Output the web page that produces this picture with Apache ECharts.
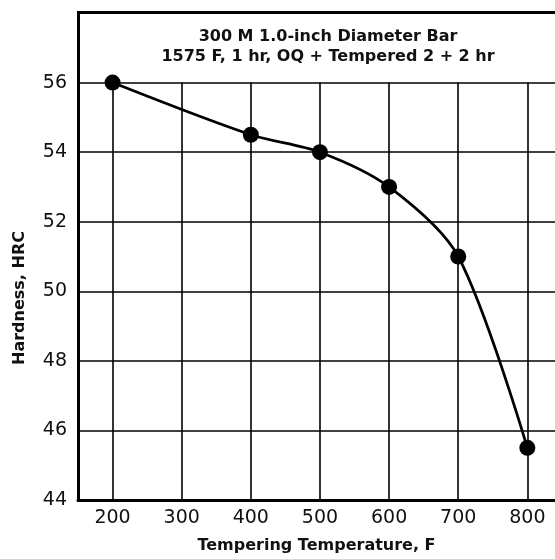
<!DOCTYPE html>
<html>
<head>
<meta charset="utf-8">
<script src="https://cdn.jsdelivr.net/npm/echarts@6/dist/echarts.min.js"></script>
<style>
  html, body { margin: 0; padding: 0; background: #fff; }
  #chart { width: 555px; height: 559px; }
</style>
</head>
<body>
<div id="chart"></div>
<script>
// Tempering temperature (F) and resulting hardness (HRC)
const temperatures = [200, 400, 500, 600, 700, 800];
const hardness = [56, 54.5, 54, 53, 51, 45.5];
const xTicks = [200, 300, 400, 500, 600, 700, 800];
const yTicks = [44, 46, 48, 50, 52, 54, 56];
const titleLines = ['300 M 1.0-inch Diameter Bar', '1575 F, 1 hr, OQ + Tempered 2 + 2 hr'];

const chart = echarts.init(document.getElementById('chart'), null, { renderer: 'canvas' });
const font = '"DejaVu Sans", "Liberation Sans", sans-serif';

const points = temperatures.map((t, i) => [t, hardness[i]]);

// vertical grid lines stop at the top data gridline, leaving the title area clear
const verticalGrid = xTicks.map(t => [{ coord: [t, yTicks[0]] }, { coord: [t, yTicks[yTicks.length - 1]] }]);

chart.setOption({
  animation: false,
  backgroundColor: '#fff',
  title: {
    text: titleLines.join('\n'),
    left: 323,
    top: 22,
    textAlign: 'center',
    textStyle: { fontFamily: font, fontSize: 16, fontWeight: 'bold', color: '#111', lineHeight: 20 }
  },
  grid: { left: 78, right: 0, top: 13, bottom: 55, containLabel: false },
  xAxis: {
    type: 'value',
    min: 150,
    max: 840,
    interval: 50,
    axisLine: { show: true, lineStyle: { color: '#000', width: 3 } },
    axisTick: { show: false },
    splitLine: { show: false },
    axisLabel: {
      fontFamily: font, fontSize: 19, color: '#111', margin: 9,
      showMaxLabel: false,
      formatter: v => (xTicks.includes(v) ? String(v) : '')
    },
    name: 'Tempering Temperature, F',
    nameLocation: 'middle',
    nameGap: 38,
    nameTextStyle: { fontFamily: font, fontSize: 16, fontWeight: 'bold', color: '#111' }
  },
  yAxis: {
    type: 'value',
    min: 44,
    max: 58,
    interval: 2,
    axisLine: { show: true, lineStyle: { color: '#000', width: 3 } },
    axisTick: { show: false },
    splitLine: { show: true, lineStyle: { color: '#000', width: 1.6 } },
    axisLabel: {
      fontFamily: font, fontSize: 19, color: '#111', margin: 11,
      formatter: v => (yTicks.includes(v) ? String(v) : '')
    }
  },
  graphic: [
    {
      type: 'text',
      x: 20,
      y: 298,
      rotation: Math.PI / 2,
      style: {
        text: 'Hardness, HRC',
        font: 'bold 16px ' + font,
        fill: '#111',
        textAlign: 'center',
        textVerticalAlign: 'middle'
      }
    },
    {
      // heavy top frame line
      type: 'rect',
      shape: { x: 77, y: 11, width: 480, height: 3 },
      style: { fill: '#000' },
      z: 10
    }
  ],
  series: [
    {
      type: 'line',
      data: points,
      smooth: 0.3,
      symbol: 'circle',
      symbolSize: 16,
      itemStyle: { color: '#000' },
      lineStyle: { color: '#000', width: 2.7 },
      z: 5,
      markLine: {
        silent: true,
        symbol: ['none', 'none'],
        label: { show: false },
        lineStyle: { color: '#000', width: 1.6, type: 'solid' },
        data: verticalGrid,
        z: 1
      }
    }
  ]
});
</script>
</body>
</html>
